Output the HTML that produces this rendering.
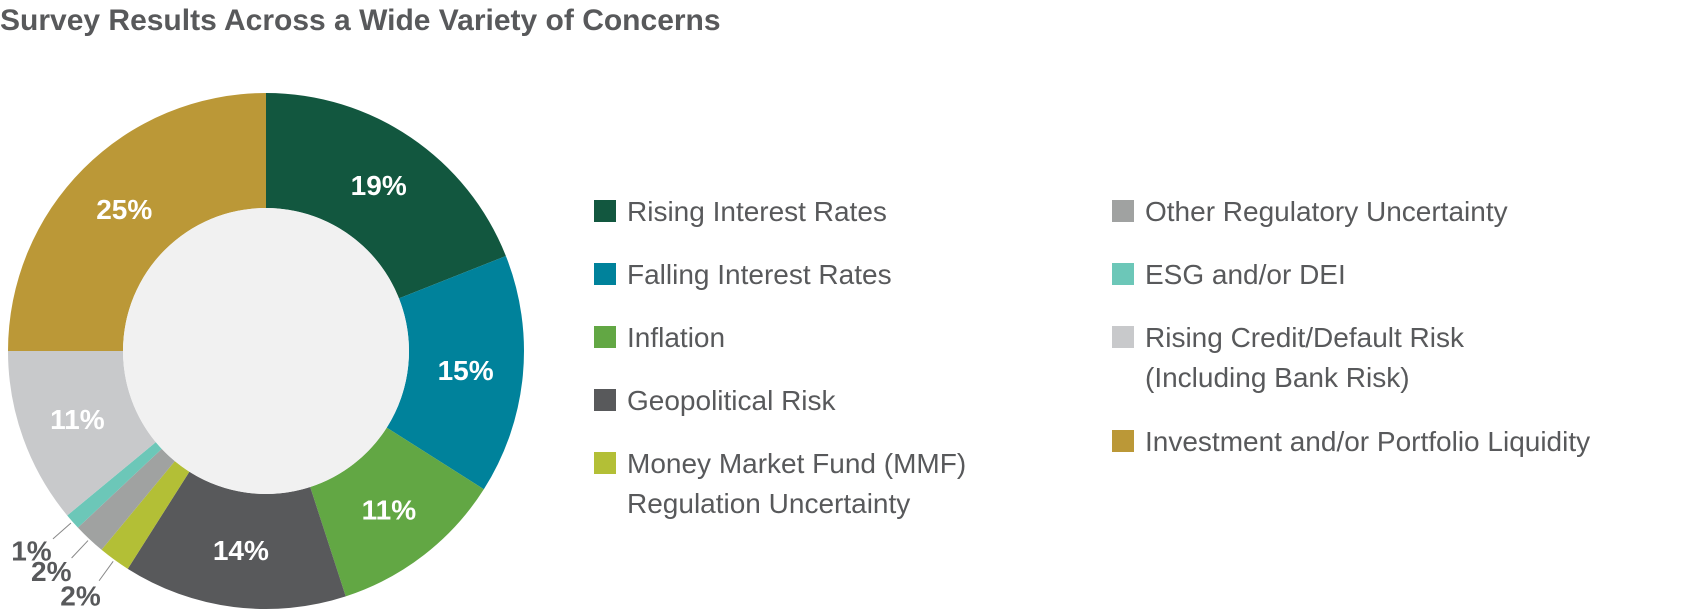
<!DOCTYPE html>
<html><head><meta charset="utf-8">
<style>
html,body{margin:0;padding:0;background:#fff;}
body{width:1700px;height:614px;overflow:hidden;position:relative;font-family:"Liberation Sans",sans-serif;}
#title{position:absolute;left:0;top:4px;font-size:30px;font-weight:bold;color:#58595b;margin:0;white-space:nowrap;}
svg{position:absolute;left:0;top:0;}
</style></head>
<body>
<h1 id="title">Survey Results Across a Wide Variety of Concerns</h1>
<svg id="chart" width="1700" height="614"></svg>
<script>
const categories = ["Rising Interest Rates","Falling Interest Rates","Inflation","Geopolitical Risk","Money Market Fund (MMF) Regulation Uncertainty","Other Regulatory Uncertainty","ESG and/or DEI","Rising Credit/Default Risk (Including Bank Risk)","Investment and/or Portfolio Liquidity"];
const values = [19,15,11,14,2,2,1,11,25];
const valueLabels = ["19%","15%","11%","14%","2%","2%","1%","11%","25%"];
const legendLines = [["Rising Interest Rates"],["Falling Interest Rates"],["Inflation"],["Geopolitical Risk"],["Money Market Fund (MMF)","Regulation Uncertainty"],["Other Regulatory Uncertainty"],["ESG and/or DEI"],["Rising Credit/Default Risk","(Including Bank Risk)"],["Investment and/or Portfolio Liquidity"]];
const colors = ["#12573f","#00829b","#62a744","#58595b","#b3bf36","#a0a2a1","#6cc7b8","#c8c9cb","#bb9837"];

const NS="http://www.w3.org/2000/svg";
const svg=document.getElementById('chart');
const cx=266, cy=351, R=258, RI=143;
const total=values.reduce((a,b)=>a+b,0);
function pt(ang,r){return [cx+r*Math.sin(ang), cy-r*Math.cos(ang)];}
function angOf(v){return v/total*2*Math.PI;}
let cum=0;
values.forEach((v,i)=>{
  const a0=angOf(cum), a1=angOf(cum+v); cum+=v;
  const large=(a1-a0)>Math.PI?1:0;
  const [x0,y0]=pt(a0,R),[x1,y1]=pt(a1,R),[x2,y2]=pt(a1,RI),[x3,y3]=pt(a0,RI);
  const p=document.createElementNS(NS,'path');
  p.setAttribute('d',`M${x0},${y0}A${R},${R} 0 ${large} 1 ${x1},${y1}L${x2},${y2}A${RI},${RI} 0 ${large} 0 ${x3},${y3}Z`);
  p.setAttribute('fill',colors[i]);
  
  
  svg.appendChild(p);
  const mid=(a0+a1)/2;
  const t=document.createElementNS(NS,'text');
  if(v>=5){
    const [lx,ly]=pt(mid,(R+RI)/2);
    t.setAttribute('x',lx);t.setAttribute('y',ly+10);
    t.setAttribute('fill','#fff');
  } else {
    const [lx,ly]=pt(mid,302);
    const [ax,ay]=pt(mid,R+2),[bx,by]=pt(mid,284);
    const l=document.createElementNS(NS,'line');
    l.setAttribute('x1',ax);l.setAttribute('y1',ay);l.setAttribute('x2',bx);l.setAttribute('y2',by);
    l.setAttribute('stroke','#888');l.setAttribute('stroke-width','1');
    
    
    svg.appendChild(l);
    t.setAttribute('x',lx-8);t.setAttribute('y',ly+10);
    t.setAttribute('fill','#58595b');
  }
  t.setAttribute('text-anchor','middle');
  t.setAttribute('font-size','28');
  t.setAttribute('font-weight','bold');
  t.setAttribute('font-family','Liberation Sans, sans-serif');
  t.textContent=valueLabels[i];
  
  
  svg.appendChild(t);
});
const c=document.createElementNS(NS,'circle');
c.setAttribute('cx',cx);c.setAttribute('cy',cy);c.setAttribute('r',RI);c.setAttribute('fill','#f1f1f1');


svg.appendChild(c);

// legend
const legendPos=[[594,211],[594,274],[594,337],[594,400],[594,463],[1112,211],[1112,274],[1112,337],[1112,441]];
categories.forEach((name,i)=>{
  const [x,y]=legendPos[i];
  const g=document.createElementNS(NS,'g');
  
  
  const r=document.createElementNS(NS,'rect');
  r.setAttribute('x',x);r.setAttribute('y',y-11);r.setAttribute('width',22);r.setAttribute('height',22);r.setAttribute('fill',colors[i]);
  
  
  g.appendChild(r);
  legendLines[i].forEach((line,j)=>{
    const t=document.createElementNS(NS,'text');
    t.setAttribute('x',x+33);t.setAttribute('y',y+10+j*40);
    t.setAttribute('font-size','28');t.setAttribute('fill','#58595b');
    t.setAttribute('font-family','Liberation Sans, sans-serif');
    t.textContent=line;
    
    
    g.appendChild(t);
  });
  svg.appendChild(g);
});
</script>
</body></html>
